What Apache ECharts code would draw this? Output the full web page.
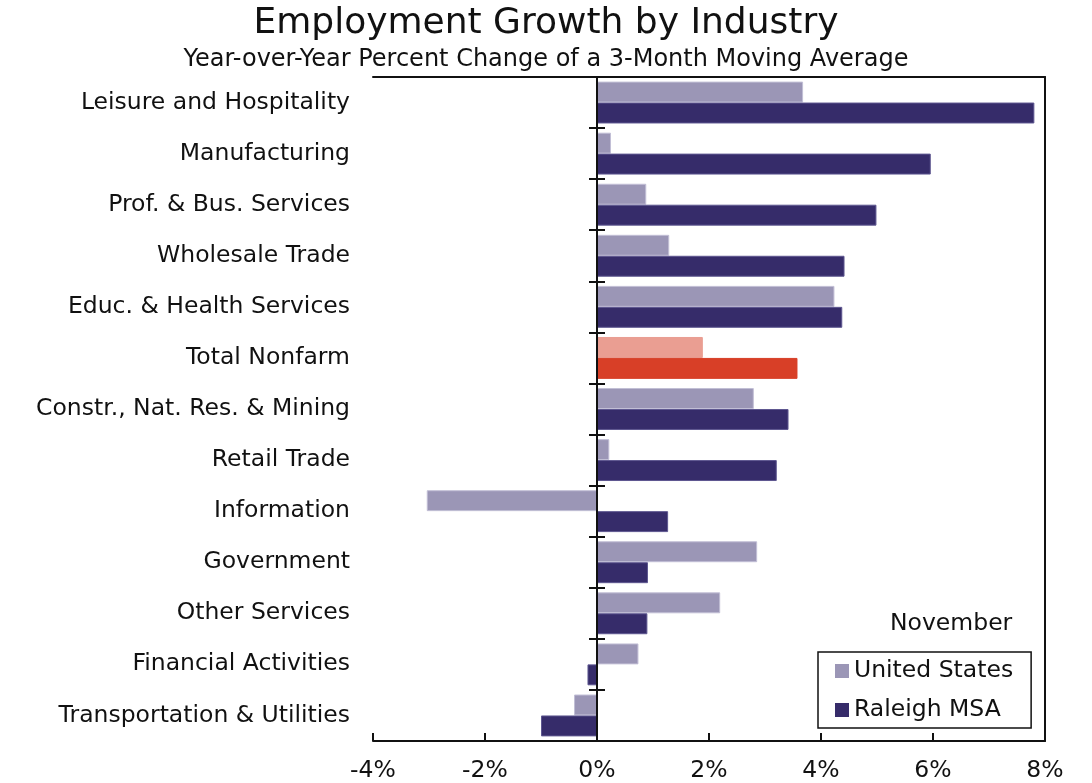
<!DOCTYPE html>
<html>
<head>
<meta charset="utf-8">
<script src="https://cdn.jsdelivr.net/npm/echarts@6/dist/echarts.min.js"></script>
<style>html,body{margin:0;padding:0;background:#fff}#c{width:1092px;height:783px}</style>
</head>
<body>
<div id="c"></div>
<script>
const categories = ['Leisure and Hospitality','Manufacturing','Prof. & Bus. Services','Wholesale Trade','Educ. & Health Services','Total Nonfarm','Constr., Nat. Res. & Mining','Retail Trade','Information','Government','Other Services','Financial Activities','Transportation & Utilities'];
const usValues = [3.68, 0.25, 0.88, 1.29, 4.24, 1.89, 2.80, 0.22, -3.04, 2.86, 2.20, 0.74, -0.41];
const raleighValues = [7.81, 5.96, 4.99, 4.42, 4.38, 3.58, 3.42, 3.21, 1.27, 0.91, 0.90, -0.17, -1.00];
const seriesNames = ['United States', 'Raleigh MSA'];
const highlightCategory = 'Total Nonfarm';
const xTicks = [-4, -2, 0, 2, 4, 6, 8];

const FONT = 'DejaVu Sans';
const usColor = '#9B96B6', raleighColor = '#362C6A';
const usHi = '#EA9E92', raleighHi = '#D83F27';

function build(values, hiColor) {
  return values.map((v, i) => categories[i] === highlightCategory
    ? {value: v, itemStyle: {color: hiColor, borderColor: hiColor}} : v);
}

const chart = echarts.init(document.getElementById('c'));
const catAxisBase = {type: 'category', data: categories, inverse: true, gridIndex: 0};
chart.setOption({
  animation: false,
  textStyle: {fontFamily: FONT},
  title: [
    {text: 'Employment Growth by Industry', left: 'center', top: 1,
     textStyle: {fontFamily: FONT, fontSize: 36, fontWeight: 'normal', color: '#111'}},
    {text: 'Year-over-Year Percent Change of a 3-Month Moving Average', left: 'center', top: 43,
     textStyle: {fontFamily: FONT, fontSize: 24, fontWeight: 'normal', color: '#111'}},
    {text: 'November', left: 885, top: 607,
     textStyle: {fontFamily: FONT, fontSize: 23.5, fontWeight: 'normal', color: '#111'}}
  ],
  legend: {
    orient: 'vertical', left: 818, top: 652,
    data: seriesNames,
    icon: 'rect', itemWidth: 14, itemHeight: 14, itemGap: 15,
    itemStyle: {borderWidth: 0},
    padding: [7, 18, 6, 17],
    borderColor: '#111', borderWidth: 1.5,
    textStyle: {fontFamily: FONT, fontSize: 23.5, color: '#111'}
  },
  grid: {left: 373, right: 47, top: 77, bottom: 41, containLabel: false},
  xAxis: [
    {type: 'value', min: -4, max: 8, interval: 2, position: 'bottom', z: 5,
     axisLine: {show: true, onZero: false, lineStyle: {color: '#111', width: 2}},
     axisTick: {show: true, inside: true, length: 8, lineStyle: {color: '#111', width: 2}},
     axisLabel: {fontFamily: FONT, fontSize: 23.5, color: '#111', margin: 18,
                 formatter: v => xTicks.includes(v) ? v + '%' : ''},
     splitLine: {show: false}},
    {type: 'value', min: -4, max: 8, interval: 2, position: 'top', z: 5,
     axisLine: {show: true, onZero: false, lineStyle: {color: '#111', width: 2}},
     axisTick: {show: false}, axisLabel: {show: false}, splitLine: {show: false}}
  ],
  yAxis: [
    Object.assign({}, catAxisBase, {position: 'left',
      axisLine: {show: false, onZero: false}, axisTick: {show: false},
      axisLabel: {fontFamily: FONT, fontSize: 23.5, color: '#111', margin: 23}}),
    Object.assign({}, catAxisBase, {position: 'left', z: 5,
      axisLine: {show: true, onZero: true, lineStyle: {color: '#111', width: 2}},
      axisTick: {show: true, inside: false, length: 8, lineStyle: {color: '#111', width: 2}},
      axisLabel: {show: false}}),
    Object.assign({}, catAxisBase, {position: 'left', z: 5,
      axisLine: {show: true, onZero: true, lineStyle: {color: '#111', width: 2}},
      axisTick: {show: true, inside: true, length: 8, lineStyle: {color: '#111', width: 2}},
      axisLabel: {show: false}}),
    Object.assign({}, catAxisBase, {position: 'right', z: 5,
      axisLine: {show: true, onZero: false, lineStyle: {color: '#111', width: 2}},
      axisTick: {show: false}, axisLabel: {show: false}})
  ],
  series: [
    {name: seriesNames[0], type: 'bar', xAxisIndex: 0, yAxisIndex: 0,
     data: build(usValues, usHi), itemStyle: {color: usColor, borderColor: '#C2BFD6', borderWidth: 1},
     barGap: '0%', barCategoryGap: '18%'},
    {name: seriesNames[1], type: 'bar', xAxisIndex: 0, yAxisIndex: 0,
     data: build(raleighValues, raleighHi), itemStyle: {color: raleighColor, borderColor: '#5E5790', borderWidth: 1},
     barGap: '0%', barCategoryGap: '18%'}
  ]
});
</script>
</body>
</html>
